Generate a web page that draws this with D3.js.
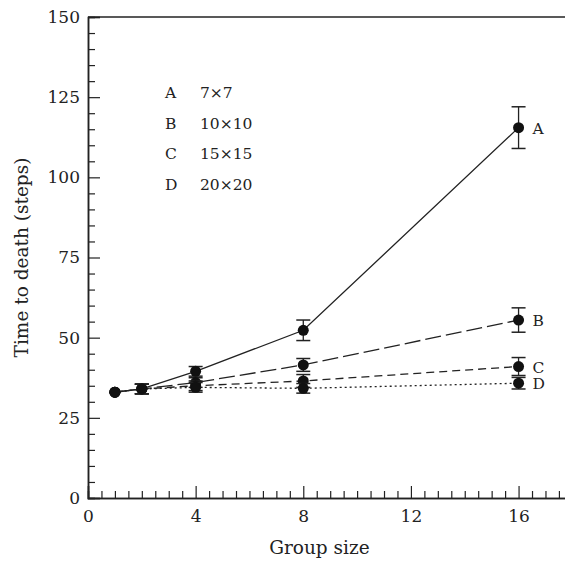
<!DOCTYPE html>
<html>
<head>
<meta charset="utf-8">
<script src="https://cdn.jsdelivr.net/npm/d3@7"></script>
<style>
  body { margin: 0; background: #fff; }
  text { font-family: "DejaVu Serif", serif; fill: #222; }
</style>
</head>
<body>
<div id="chart"></div>
<script>
const width = 565;
const height = 562;

// data
const groupSizes = [1, 2, 4, 8, 16];
const seriesNames = ['A', 'B', 'C', 'D'];
const gridLabels = ['7\u00d77', '10\u00d710', '15\u00d715', '20\u00d720'];
const meanA = [33, 34, 39.5, 52.3, 115.5];
const meanB = [33, 34, 36, 41.5, 55.5];
const meanC = [33, 34, 35, 36.5, 41];
const meanD = [33, 34, 34.5, 34.2, 35.8];
const errA = [0, 1.5, 1.5, 3.2, 6.5];
const errB = [0, 1.5, 1.5, 2, 3.8];
const errC = [0, 1.5, 1.5, 2, 2.8];
const errD = [0, 1.5, 1.5, 1.5, 1.8];
const yTicks = [0, 25, 50, 75, 100, 125, 150];
const xTicks = [0, 4, 8, 12, 16];

const means = [meanA, meanB, meanC, meanD];
const errs = [errA, errB, errC, errD];
const dashes = [null, '16,5', '8,5', '2,3'];

const x = d3.scaleLinear().domain([0, 17.8]).range([88, 567]);
const y = d3.scaleLinear().domain([0, 150]).range([498, 17]);

const svg = d3.select('#chart')
    .append('svg')
    .attr('width', width)
    .attr('height', height);

// axes, minor ticks first then major ticks with labels
const xMinor = d3.range(0, 18, 0.5).filter(v => v % 4 !== 0);
const yMinor = d3.range(0, 151, 5).filter(v => v % 25 !== 0);

const xAxis = svg.append('g').attr('transform', `translate(0,${y(0)})`);
xAxis.call(d3.axisBottom(x).tickValues(xMinor).tickSize(-7).tickFormat(''));
xAxis.append('g').call(d3.axisBottom(x).tickValues(xTicks).tickSize(-12).tickFormat(d3.format('d')));

const yAxis = svg.append('g').attr('transform', `translate(${x(0)},0)`);
yAxis.call(d3.axisLeft(y).tickValues(yMinor).tickSize(-7).tickFormat(''));
yAxis.append('g').call(d3.axisLeft(y).tickValues(yTicks).tickSize(-12).tickFormat(d3.format('d')));

svg.selectAll('.domain').attr('stroke', '#222').attr('stroke-width', 1.5);
svg.selectAll('.tick line').attr('stroke', '#222').attr('stroke-width', 1.2);
svg.selectAll('.tick text').attr('font-size', 17).attr('font-family', '"DejaVu Serif", serif').attr('fill', '#222');
xAxis.selectAll('.tick text').attr('dy', '1.25em');
yAxis.selectAll('.tick text').attr('x', -8);

// top frame line
svg.append('line')
    .attr('x1', x(0)).attr('x2', width)
    .attr('y1', y(150)).attr('y2', y(150))
    .attr('stroke', '#222').attr('stroke-width', 1.5);

// axis titles
svg.append('text')
    .attr('x', x(8.6)).attr('y', 554)
    .attr('text-anchor', 'middle')
    .attr('font-size', 18.5)
    .text('Group size');

svg.append('text')
    .attr('transform', `translate(28,${y(75)}) rotate(-90)`)
    .attr('text-anchor', 'middle')
    .attr('font-size', 18.5)
    .text('Time to death (steps)');

// series
const line = d3.line().x(d => x(d[0])).y(d => y(d[1]));

means.forEach((m, i) => {
    const pts = groupSizes.map((g, j) => [g, m[j], errs[i][j]]);
    svg.append('path')
        .datum(pts)
        .attr('d', line)
        .attr('fill', 'none')
        .attr('stroke', '#222')
        .attr('stroke-width', 1.3)
        .attr('stroke-dasharray', dashes[i]);

    const bars = svg.append('g').selectAll('g')
        .data(pts.filter(d => d[2] > 0))
        .enter().append('g');
    bars.append('line')
        .attr('x1', d => x(d[0])).attr('x2', d => x(d[0]))
        .attr('y1', d => y(d[1] - d[2])).attr('y2', d => y(d[1] + d[2]))
        .attr('stroke', '#222').attr('stroke-width', 1.3);
    [-1, 1].forEach(s => {
        bars.append('line')
            .attr('x1', d => x(d[0]) - 7).attr('x2', d => x(d[0]) + 7)
            .attr('y1', d => y(d[1] + s * d[2])).attr('y2', d => y(d[1] + s * d[2]))
            .attr('stroke', '#222').attr('stroke-width', 1.5);
    });

    svg.append('g').selectAll('circle')
        .data(pts)
        .enter().append('circle')
        .attr('cx', d => x(d[0]))
        .attr('cy', d => y(d[1]))
        .attr('r', 5.5)
        .attr('fill', '#111');

    // end label
    svg.append('text')
        .attr('x', x(16) + 14)
        .attr('y', y(m[m.length - 1]) + 6)
        .attr('font-size', 15.5)
        .text(seriesNames[i]);
});

// key
const key = svg.append('g');
seriesNames.forEach((n, i) => {
    key.append('text')
        .attr('x', 165).attr('y', 98 + i * 30.7)
        .attr('font-size', 15.5)
        .text(n);
    key.append('text')
        .attr('x', 200).attr('y', 98 + i * 30.7)
        .attr('font-size', 15.5)
        .text(gridLabels[i]);
});
</script>
</body>
</html>
